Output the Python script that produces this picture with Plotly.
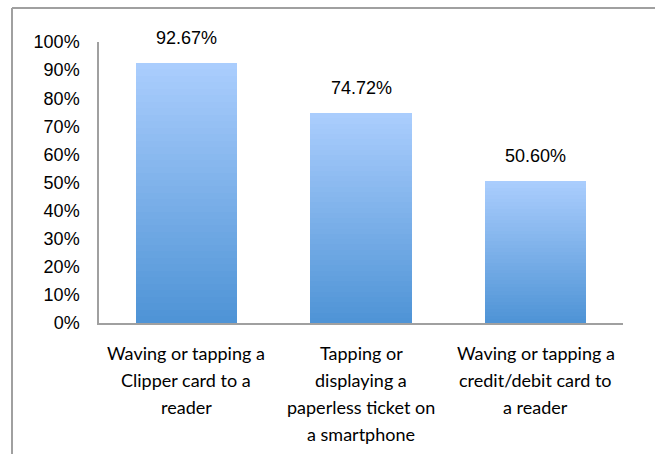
import plotly.graph_objects as go

categories = [
    "Waving or tapping a<br>Clipper card to a<br>reader",
    "Tapping or<br>displaying a<br>paperless ticket on<br>a smartphone",
    "Waving or tapping a<br>credit/debit card to<br>a reader",
]
values = [92.67, 74.72, 50.60]
value_labels = ["92.67%", "74.72%", "50.60%"]
tick_vals = [0, 10, 20, 30, 40, 50, 60, 70, 80, 90, 100]
tick_text = ["0%", "10%", "20%", "30%", "40%", "50%", "60%", "70%", "80%", "90%", "100%"]

FONT = "Liberation Sans, Arial, sans-serif"
CAT_FONT = "Lato, Liberation Sans, sans-serif"
top_rgb = (170, 205, 253)
bot_rgb = (79, 148, 214)
N = 40

fig = go.Figure()
for k in range(N):
    t = k / (N - 1)
    c = tuple(round(bot_rgb[i] + (top_rgb[i] - bot_rgb[i]) * t) for i in range(3))
    fig.add_trace(go.Bar(
        x=categories,
        y=[v / N for v in values],
        marker=dict(color="rgb(%d,%d,%d)" % c, line=dict(width=0)),
        width=0.58,
        hoverinfo="skip",
        showlegend=False,
    ))

for cat, v, lab in zip(categories, values, value_labels):
    fig.add_annotation(x=cat, y=v, text=lab, showarrow=False, yanchor="bottom",
                       yshift=13, font=dict(family=FONT, size=18, color="#000000"))

# category labels, one annotation per line for Excel-like line spacing
for cat in categories:
    for i, line in enumerate(cat.split("<br>")):
        fig.add_annotation(x=cat, xref="x", y=0, yref="paper", text=line,
                           showarrow=False, yanchor="middle", xanchor="center",
                           yshift=-(30 + 27 * i),
                           font=dict(family=CAT_FONT, size=18, color="#000000"))

fig.update_layout(
    width=655, height=454,
    barmode="stack", bargap=0.42,
    margin=dict(l=99, r=32, t=42, b=131),
    paper_bgcolor="white", plot_bgcolor="white",
    font=dict(family=FONT, size=18, color="#000000"),
    shapes=[
        dict(type="line", xref="paper", yref="paper", x0=-87/524, x1=-87/524,
             y0=-131/281, y1=(281+34)/281, line=dict(color="#a0a0a0", width=2)),
        dict(type="line", xref="paper", yref="paper", x0=-87/524, x1=(524+40)/524,
             y0=(281+34)/281, y1=(281+34)/281, line=dict(color="#a0a0a0", width=2)),
    ],
)
fig.update_xaxes(showline=True, linecolor="#a0a0a0", linewidth=1.5, ticks="",
                 showticklabels=False, showgrid=False)
fig.update_yaxes(range=[0, 100], tickvals=tick_vals, ticktext=tick_text,
                 showline=True, linecolor="#a0a0a0", linewidth=1.5, ticks="",
                 ticklabelstandoff=14, showgrid=False, zeroline=False,
                 tickfont=dict(size=18))

fig.write_html("out.html")
